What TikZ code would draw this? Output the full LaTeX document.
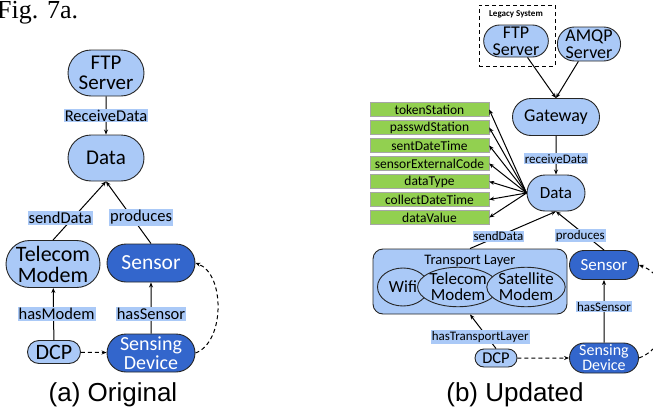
\documentclass[tikz,border=0pt]{standalone}
\usepackage{fontspec}
\setmainfont{Carlito}
\newfontfamily\capfont{Liberation Sans}
\newfontfamily\figfont{Liberation Serif}
\usetikzlibrary{shapes.misc,shapes.geometric,arrows.meta}
\definecolor{lblue}{RGB}{170,201,247}
\definecolor{dblue}{RGB}{51,102,204}
\definecolor{lgreen}{RGB}{146,208,80}
\tikzset{
  fsz/.style={font=\fontsize{#1}{#1}\selectfont},
  cls/.style={rounded rectangle, draw=black!85, line width=0.9pt, fill=lblue, align=center, inner sep=0pt},
  dcls/.style={cls, fill=dblue, text=white},
  rel/.style={fill=lblue, inner sep=1pt, fsz=16.5},
  srel/.style={fill=lblue, inner sep=1pt, fsz=13},
  attr/.style={draw=black!35, line width=0.4pt, fill=lgreen, minimum width=119pt, minimum height=14pt, inner sep=0pt, fsz=13.5},
  arr/.style={-{Stealth[length=5pt,width=4pt]}, line width=1pt},
  darr/.style={arr, dash pattern=on 4pt off 3pt}
}

\begin{document}
\begin{tikzpicture}[x=1pt, y=-1pt]
		\useasboundingbox (0,0) rectangle (653,415);
		
		%%%%% (a) ORIGINAL %%%%%
		\node[anchor=base west, inner sep=0pt, font=\figfont\fontsize{26}{26}\selectfont] (figno) at (-3,18) {Fig. 7a.};
		
		\node[cls, minimum width=76pt, minimum height=46pt, font=\fontsize{21}{20}\selectfont] (ftpA) at (106,73) {FTP\\Server};
		\node[cls, minimum width=76pt, minimum height=46pt, fsz=21] (dataA) at (106,158) {Data};
		\node[cls, minimum width=94pt, minimum height=47pt, font=\fontsize{22}{21}\selectfont] (telA) at (53,264) {Telecom\\Modem};
		\node[dcls, minimum width=88pt, minimum height=38pt, fsz=21.5] (sensA) at (151,263) {Sensor};
		\node[cls, minimum width=53pt, minimum height=23pt, fsz=22] (dcpA) at (54,352) {DCP};
		\node[dcls, minimum width=88pt, minimum height=38pt, font=\fontsize{20}{19}\selectfont] (sdevA) at (151,353) {Sensing\\Device};
		
		\draw[arr] (ftpA) -- node[rel] {ReceiveData} (dataA);
		\draw[arr] (telA.north) -- node[rel, pos=0.38, xshift=-13pt] {sendData} (dataA.south);
		\draw[arr] (sensA.north) -- node[rel, pos=0.42, xshift=9pt] {produces} (dataA.south);
		\draw[arr] (dcpA) -- node[rel, xshift=3pt] {hasModem} (telA);
		\draw[arr] (sdevA) -- node[rel, pos=0.38] {hasSensor} (sensA);
		\draw[darr] (dcpA) -- (sdevA);
		\draw[darr] (sdevA.east) to[out=20, in=-20, looseness=0.9] (sensA.east);
		
		\node[font=\capfont\fontsize{26}{26}\selectfont] (capA) at (113,395) {(a) Original};
		
		%%%%% (b) UPDATED %%%%%
		\node[draw, line width=1pt, dash pattern=on 4pt off 3pt, minimum width=76pt, minimum height=61pt] (legacy) at (517,35.5) {};
		\node[font=\bfseries\fontsize{9}{9}\selectfont] (legacyLbl) at (516,14) {Legacy System};
		\node[cls, minimum width=59pt, minimum height=32pt, font=\fontsize{18}{17}\selectfont] (ftpB) at (516,41) {FTP\\Server};
		\node[cls, minimum width=58pt, minimum height=34pt, font=\fontsize{18}{17}\selectfont] (amqpB) at (589,44) {AMQP\\Server};
		\node[cls, minimum width=87pt, minimum height=37pt, fsz=18] (gateB) at (556,117) {Gateway};
		\node[cls, minimum width=58pt, minimum height=36pt, fsz=17] (dataB) at (556,193) {Data};
		
		\draw[arr] (ftpB) -- (gateB.north);
		\draw[arr] (amqpB) -- (gateB.north);
		\draw[arr] (gateB) -- node[srel, pos=0.59] {receiveData} (dataB);
		
		\foreach \nm [count=\i from 0] in {tokenStation,passwdStation,sentDateTime,sensorExternalCode,dataType,collectDateTime,dataValue} {
			\node[attr] (fld\i) at (429.5,{109.5+18*\i}) {\nm};
			\draw[arr] (dataB.west) -- (fld\i.east);
		}
		
		\node[draw=black!85, fill=lblue, line width=0.9pt, rounded corners=10pt, minimum width=194pt, minimum height=65pt] (transB) at (470,281.5) {};
		\node[fsz=14.5] (transLbl) at (470,261) {Transport Layer};
		\node[ellipse, draw=black!85, fill=lblue, line width=0.9pt, minimum width=51pt, minimum height=38pt, inner sep=0pt, fsz=17] (wifiB) at (403,287) {Wifi};
		\node[ellipse, draw=black!85, fill=lblue, line width=0.9pt, minimum width=67pt, minimum height=38pt, inner sep=0pt, align=center, font=\fontsize{17}{16}\selectfont] (telB) at (458,287) {Telecom\\Modem};
		\node[ellipse, draw=black!85, fill=lblue, line width=0.9pt, minimum width=74pt, minimum height=38pt, inner sep=0pt, align=center, font=\fontsize{17}{16}\selectfont] (satB) at (526,287) {Satellite\\Modem};
		
		\node[dcls, minimum width=69pt, minimum height=29pt, fsz=17] (sensB) at (604,265) {Sensor};
		\node[dcls, minimum width=69pt, minimum height=30pt, font=\fontsize{16}{15}\selectfont] (sdevB) at (604,358) {Sensing\\Device};
		\node[cls, minimum width=42pt, minimum height=18pt, fsz=16.5] (dcpB) at (496,358) {DCP};
		
		\draw[arr] (transB.north) -- node[srel, pos=0.33] {sendData} (dataB.south);
		\draw[arr] (sensB.north) -- node[srel, pos=0.37, xshift=-6pt] {produces} (dataB.south);
		\draw[arr] (sdevB) -- node[srel, pos=0.57] {hasSensor} (sensB);
		\draw[arr] (dcpB.north) -- node[srel, pos=0.34, xshift=-7pt] {hasTransportLayer} (transB.south);
		\draw[darr] (dcpB) -- (sdevB);
		\draw[darr] (sdevB.east) to[out=20, in=-20, looseness=1.1] (sensB.east);
		
		\node[font=\capfont\fontsize{26}{26}\selectfont] (capB) at (515,395) {(b) Updated};
		
		%%%%% END %%%%%
\end{tikzpicture}
\end{document}
